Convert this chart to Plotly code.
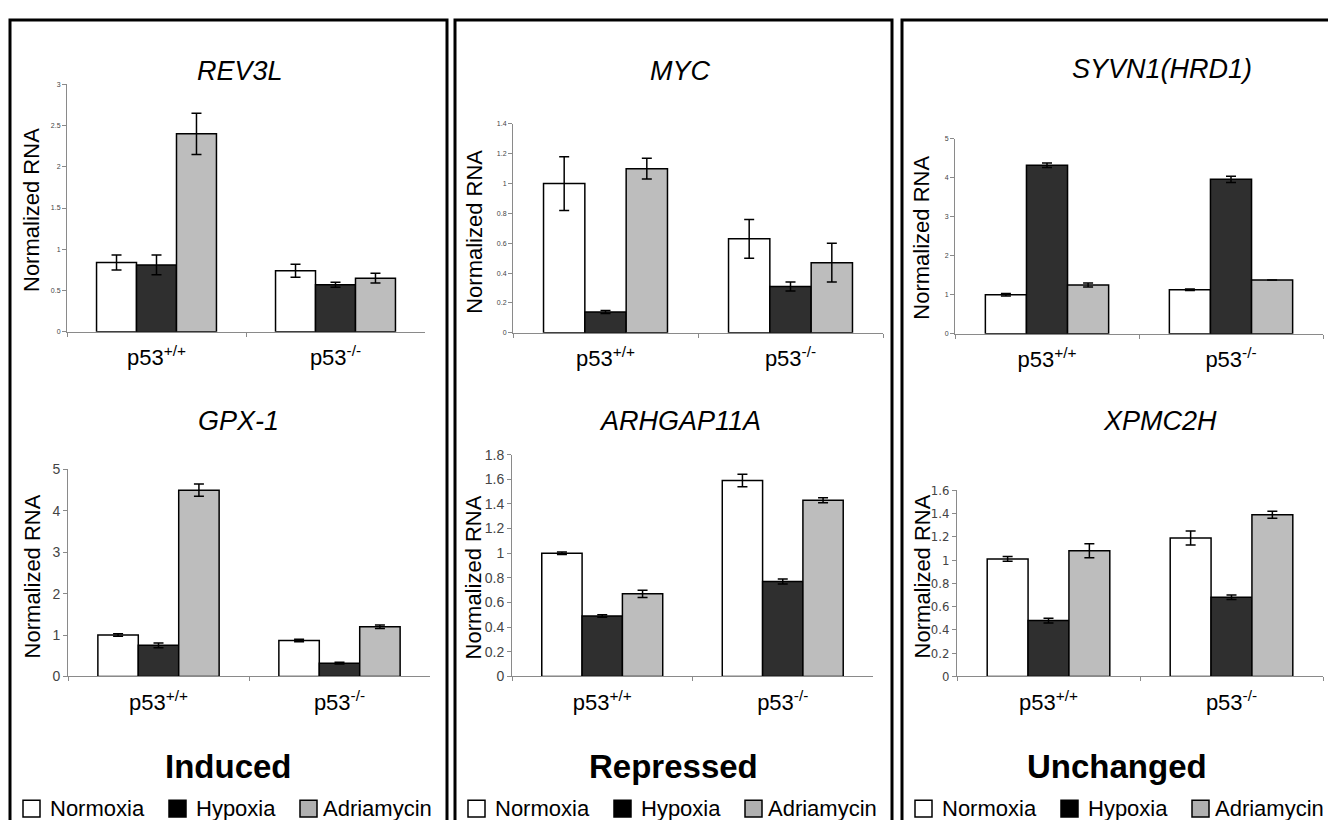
import plotly.graph_objects as go

W = 1328
H_REF = 820      # reference picture height used for layout fractions
H_FIG = 828      # figure height (the page capture is 828 px tall)

genotypes = ["p53<sup>+/+</sup>", "p53<sup>-/-</sup>"]
conditions = ["Normoxia", "Hypoxia", "Adriamycin"]
cond_colors = ["#ffffff", "#2f2f2f", "#bdbdbd"]
legend_fill = ["#ffffff", "#000000", "#b0b0b0"]

groups = ["Induced", "Repressed", "Unchanged"]

# rows = conditions (Normoxia, Hypoxia, Adriamycin), cols = genotypes
rev3l_means = [[0.84, 0.74], [0.81, 0.57], [2.40, 0.65]]
rev3l_errs = [[0.09, 0.08], [0.12, 0.03], [0.25, 0.06]]

gpx1_means = [[1.00, 0.87], [0.75, 0.32], [4.50, 1.20]]
gpx1_errs = [[0.03, 0.03], [0.06, 0.02], [0.15, 0.04]]

myc_means = [[1.00, 0.63], [0.14, 0.31], [1.10, 0.47]]
myc_errs = [[0.18, 0.13], [0.01, 0.03], [0.07, 0.13]]

arhgap_means = [[1.00, 1.59], [0.49, 0.77], [0.67, 1.43]]
arhgap_errs = [[0.01, 0.05], [0.01, 0.02], [0.03, 0.02]]

syvn1_means = [[1.00, 1.13], [4.32, 3.96], [1.25, 1.38]]
syvn1_errs = [[0.03, 0.02], [0.06, 0.08], [0.05, 0.0]]

xpmc2h_means = [[1.01, 1.19], [0.48, 0.68], [1.08, 1.39]]
xpmc2h_errs = [[0.02, 0.06], [0.02, 0.02], [0.06, 0.03]]

FONT = "Liberation Sans, Arial, Helvetica, sans-serif"
NARROW = "Liberation Sans Narrow, Arial Narrow, DejaVu Sans Condensed, Liberation Sans, sans-serif"

# gene, means, errs, ymax, dtick, plot px box (x0, x1, ytop, ybottom), tick font size, tick font
subplots = [
    ("REV3L", rev3l_means, rev3l_errs, 3, 0.5, (67, 425, 77, 327), 7, FONT),
    ("MYC", myc_means, myc_errs, 1.4, 0.2, (513, 883, 117, 328), 7, FONT),
    ("SYVN1(HRD1)", syvn1_means, syvn1_errs, 5, 1, (955, 1323, 132, 329), 7, FONT),
    ("GPX-1", gpx1_means, gpx1_errs, 5, 1, (68, 430, 466, 675), 14, FONT),
    ("ARHGAP11A", arhgap_means, arhgap_errs, 1.8, 0.2, (512, 873, 451, 675), 14, FONT),
    ("XPMC2H", xpmc2h_means, xpmc2h_errs, 1.6, 0.2, (957, 1323, 487, 675), 13, NARROW),
]


def px(x):
    return x / W


def py(y):
    return 1 - y / H_REF


fig = go.Figure()
layout = {}
annotations = []
shapes = []

for i, (gene, means, errs, ymax, dtick, box, tfs, tff) in enumerate(subplots):
    n = i + 1
    xa = "x" if n == 1 else f"x{n}"
    ya = "y" if n == 1 else f"y{n}"
    for c, cond in enumerate(conditions):
        fig.add_trace(go.Bar(
            x=genotypes, y=means[c], name=cond,
            marker=dict(color=cond_colors[c], line=dict(color="black", width=1.5)),
            error_y=dict(type="data", array=errs[c], visible=True,
                         color="black", thickness=1.5, width=5),
            xaxis=xa, yaxis=ya, showlegend=False,
            offsetgroup=str(c),
        ))
    x0, x1, yt, yb = box
    layout["xaxis" if n == 1 else f"xaxis{n}"] = dict(
        domain=[px(x0), px(x1)], anchor=ya, type="category",
        showline=True, linecolor="#8a8a8a", linewidth=1,
        ticks="outside", ticklen=4, tickcolor="#8a8a8a", tickson="boundaries",
        tickfont=dict(family=FONT, size=22, color="black"),
        ticklabelstandoff=6, showgrid=False, zeroline=False, fixedrange=True,
    )
    layout["yaxis" if n == 1 else f"yaxis{n}"] = dict(
        domain=[py(yb), py(yt)], anchor=xa, range=[0, ymax], dtick=dtick,
        showline=True, linecolor="#8a8a8a", linewidth=1,
        ticks="outside", ticklen=4, tickcolor="#8a8a8a",
        tickfont=dict(family=tff, size=tfs, color="#444444"),
        showgrid=False, zeroline=False, fixedrange=True,
    )

# gene titles
title_pos = [(240, 64), (680, 64), (1162, 62), (238, 417), (680, 417), (1160, 417)]
for (gene, *_), (tx, ty) in zip(subplots, title_pos):
    annotations.append(dict(
        text=f"<i>{gene}</i>", x=px(tx), y=py(ty), xref="paper", yref="paper",
        xanchor="center", yanchor="middle", showarrow=False,
        font=dict(family=FONT, size=27, color="black")))

# y-axis titles
ytitle_pos = [(31, 204), (475, 226), (922, 232), (32, 574), (473, 575), (922, 574)]
for (tx, ty) in ytitle_pos:
    annotations.append(dict(
        text="Normalized RNA", x=px(tx), y=py(ty), xref="paper", yref="paper",
        xanchor="center", yanchor="middle", showarrow=False, textangle=-90,
        font=dict(family=FONT, size=22, color="black")))

# panels with group label and legend
panel_x = [(10, 447), (455, 892), (902, 1339)]
group_cx = [228, 673, 1117]
sq_off = [13, 159, 290]
tx_off = [38, 184, 311]
for (p0, p1), grp, gcx in zip(panel_x, groups, group_cx):
    shapes.append(dict(type="rect", xref="paper", yref="paper",
                       x0=px(p0), x1=px(p1), y0=py(850), y1=py(12),
                       line=dict(color="black", width=3), fillcolor="rgba(0,0,0,0)"))
    annotations.append(dict(
        text=f"<b>{grp}</b>", x=px(gcx), y=py(766), xref="paper", yref="paper",
        xanchor="center", yanchor="middle", showarrow=False,
        font=dict(family=FONT, size=33, color="black")))
    for c, cond in enumerate(conditions):
        sx = p0 + sq_off[c]
        shapes.append(dict(type="rect", xref="paper", yref="paper",
                           x0=px(sx), x1=px(sx + 17), y0=py(817), y1=py(800),
                           line=dict(color="black", width=1.5),
                           fillcolor=legend_fill[c]))
        annotations.append(dict(
            text=cond, x=px(p0 + tx_off[c]), y=py(808), xref="paper", yref="paper",
            xanchor="left", yanchor="middle", showarrow=False,
            font=dict(family=FONT, size=22, color="black")))

fig.update_layout(
    width=W, height=H_FIG, margin=dict(l=0, r=0, t=0, b=0),
    paper_bgcolor="white", plot_bgcolor="white",
    barmode="group", bargap=0.33, bargroupgap=0,
    annotations=annotations, shapes=shapes,
    font=dict(family=FONT),
    **layout,
)

fig.write_html(
    "out.html",
    config={"displayModeBar": False},
    post_script=(
        "document.documentElement.style.margin='0';"
        "document.documentElement.style.overflow='hidden';"
        "document.body.style.margin='0';"
        "document.body.style.overflow='hidden';"
        "var d=document.getElementById('{plot_id}');"
        "d.style.position='fixed';d.style.left='0px';d.style.top='0px';"
    ),
)
